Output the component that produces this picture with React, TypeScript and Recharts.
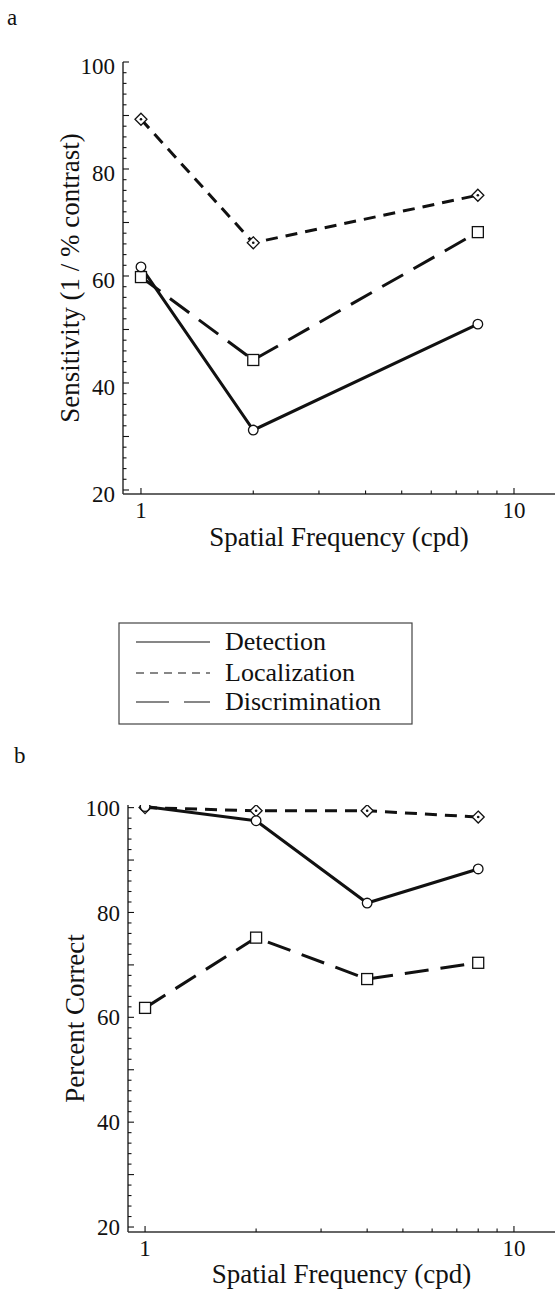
import React from 'react';
import { LineChart, Line, XAxis, YAxis, Label } from 'recharts';

// series names shared by both panels
const seriesNames = ['Detection', 'Localization', 'Discrimination'];

// panel a: sensitivity (1 / % contrast)
const freqA = [1, 2, 8];
const detectionA = [61.7, 31.2, 51.0];
const localizationA = [89.3, 66.2, 75.1];
const discriminationA = [59.8, 44.3, 68.2];

// panel b: percent correct
const freqB = [1, 2, 4, 8];
const detectionB = [100.2, 97.5, 81.8, 88.3];
const localizationB = [100, 99.4, 99.4, 98.2];
const discriminationB = [61.8, 75.2, 67.3, 70.4];

// ticks
const xTicks = [1, 2, 3, 4, 5, 6, 7, 8, 9, 10];
const xLabelTicks = [1, 10];
const yTicks = [20, 22, 24, 26, 28, 30, 32, 34, 36, 38, 40, 42, 44, 46, 48, 50, 52, 54, 56, 58, 60,
  62, 64, 66, 68, 70, 72, 74, 76, 78, 80, 82, 84, 86, 88, 90, 92, 94, 96, 98, 100];
const yLabelTicks = [20, 40, 60, 80, 100];

const FONT = '"Liberation Serif", "Times New Roman", serif';
const INK = '#111';

const dashes: Record<string, string | undefined> = {
  Detection: undefined,
  Localization: '12 8',
  Discrimination: '24 12',
};
const legendDashes: Record<string, string | undefined> = {
  Detection: undefined,
  Localization: '8 6',
  Discrimination: '33 15',
};

const rowsA = freqA.map((f, i) => ({
  f, Detection: detectionA[i], Localization: localizationA[i], Discrimination: discriminationA[i],
}));
const rowsB = freqB.map((f, i) => ({
  f, Detection: detectionB[i], Localization: localizationB[i], Discrimination: discriminationB[i],
}));

// markers
const CircleDot = (p: any) =>
  p.cx == null ? null : (
    <circle key={p.index} cx={p.cx} cy={p.cy} r={4.8} fill="#fff" stroke={INK} strokeWidth={1.3} />
  );
const SquareDot = (p: any) =>
  p.cx == null ? null : (
    <rect key={p.index} x={p.cx - 5.5} y={p.cy - 5.5} width={11} height={11} fill="#fff" stroke={INK} strokeWidth={1.3} />
  );
const DiamondDot = (p: any) =>
  p.cx == null ? null : (
    <g key={p.index}>
      <path
        d={`M${p.cx},${p.cy - 6} L${p.cx + 6},${p.cy} L${p.cx},${p.cy + 6} L${p.cx - 6},${p.cy} Z`}
        fill="#fff" stroke={INK} strokeWidth={1.3}
      />
      <circle cx={p.cx} cy={p.cy} r={1.3} fill={INK} />
    </g>
  );
const dots: Record<string, any> = {
  Detection: CircleDot,
  Localization: DiamondDot,
  Discrimination: SquareDot,
};

const XTick = (props: any) => {
  const { x, y, payload } = props;
  const v = payload.value;
  const major = xLabelTicks.includes(v);
  return (
    <g>
      <line x1={x} x2={x} y1={y} y2={y - (major ? 6 : 3.5)} stroke={INK} strokeWidth={1.1} />
      {major && (
        <text x={x} y={y + 24} textAnchor="middle" fontSize={23} fontFamily={FONT} fill={INK}>{v}</text>
      )}
    </g>
  );
};

const YTick = (props: any) => {
  const { x, y, payload, shift } = props;
  const v = payload.value;
  const major = v % 10 === 0;
  return (
    <g>
      <line x1={x} x2={x + (major ? 6 : 3.5)} y1={y} y2={y} stroke={INK} strokeWidth={1.1} />
      {yLabelTicks.includes(v) && (
        <text x={x - 8} y={y + shift} dy="0.35em" textAnchor="end" fontSize={23} fontFamily={FONT} fill={INK}>{v}</text>
      )}
    </g>
  );
};

type PanelProps = {
  rows: any[];
  top: number;
  height: number;
  marginTop: number;
  marginLeft: number;
  xDomain: [number, number];
  yDomain: [number, number];
  xAxisHeight: number;
  xTitleOffset: number;
  yTitle: string;
  yTitleX: number;
  labelShift: number;
};

function Panel(p: PanelProps) {
  return (
    <div style={{ position: 'absolute', left: 0, top: p.top }}>
      <LineChart
        width={555}
        height={p.height}
        data={p.rows}
        margin={{ top: p.marginTop, right: 0, bottom: 0, left: p.marginLeft }}
      >
        <XAxis
          dataKey="f"
          type="number"
          scale="log"
          domain={p.xDomain}
          allowDataOverflow
          ticks={xTicks}
          interval={0}
          height={p.xAxisHeight}
          tickSize={0}
          tickMargin={0}
          tickLine={false}
          axisLine={{ stroke: '#333', strokeWidth: 1.5 }}
          tick={(t: any) => <XTick {...t} />}
        >
          <Label
            value="Spatial Frequency (cpd)"
            position="insideBottom"
            offset={p.xTitleOffset}
            style={{ fontSize: 27, fontFamily: FONT, fill: INK }}
          />
        </XAxis>
        <YAxis
          type="number"
          domain={p.yDomain}
          allowDataOverflow
          ticks={yTicks}
          interval={0}
          width={80}
          tickSize={0}
          tickMargin={0}
          tickLine={false}
          axisLine={{ stroke: '#333', strokeWidth: 1.5 }}
          tick={(t: any) => <YTick {...t} shift={p.labelShift} />}
        >
          <Label
            content={({ viewBox }: any) => {
              const cy = viewBox.y + viewBox.height / 2;
              const x = viewBox.x + p.yTitleX;
              return (
                <text
                  transform={`translate(${x},${cy}) rotate(-90)`}
                  textAnchor="middle"
                  fontSize={27}
                  fontFamily={FONT}
                  fill={INK}
                >
                  {p.yTitle}
                </text>
              );
            }}
          />
        </YAxis>
        {['Localization', 'Discrimination', 'Detection'].map((name) => (
          <Line
            key={name}
            type="linear"
            dataKey={name}
            stroke={INK}
            strokeWidth={3}
            strokeDasharray={dashes[name]}
            dot={dots[name]}
            activeDot={false}
            isAnimationActive={false}
          />
        ))}
      </LineChart>
    </div>
  );
}

export default function App() {
  const legendRowsY = [642, 673, 702];
  const legendTextY = [650, 681, 710];
  return (
    <div style={{ position: 'absolute', left: 0, top: 0, width: 555, height: 1290, background: '#fff' }}>
      <Panel
        rows={rowsA}
        top={0}
        height={560}
        marginTop={62}
        marginLeft={43}
        xDomain={[0.895, 12.88]}
        yDomain={[19.25, 100]}
        xAxisHeight={66}
        xTitleOffset={14}
        yTitle="Sensitivity (1 / % contrast)"
        yTitleX={36}
        labelShift={4}
      />
      <Panel
        rows={rowsB}
        top={740}
        height={550}
        marginTop={65}
        marginLeft={48}
        xDomain={[0.899, 12.92]}
        yDomain={[19.05, 100.5]}
        xAxisHeight={58}
        xTitleOffset={7}
        yTitle="Percent Correct"
        yTitleX={36}
        labelShift={0}
      />
      <svg width={555} height={1290} style={{ position: 'absolute', left: 0, top: 0, pointerEvents: 'none' }}>
        <text x={7} y={25} fontSize={23} fontFamily={FONT} fill={INK}>a</text>
        <text x={14} y={763} fontSize={23} fontFamily={FONT} fill={INK}>b</text>
        <rect x={119} y={623} width={293} height={101} fill="none" stroke="#444" strokeWidth={1.2} />
        {seriesNames.map((name, i) => (
          <g key={name}>
            <line
              x1={136} x2={210} y1={legendRowsY[i]} y2={legendRowsY[i]}
              stroke={INK} strokeWidth={1.2} strokeDasharray={legendDashes[name]}
            />
            <text x={225} y={legendTextY[i]} fontSize={26} fontFamily={FONT} fill={INK}>{name}</text>
          </g>
        ))}
      </svg>
    </div>
  );
}
